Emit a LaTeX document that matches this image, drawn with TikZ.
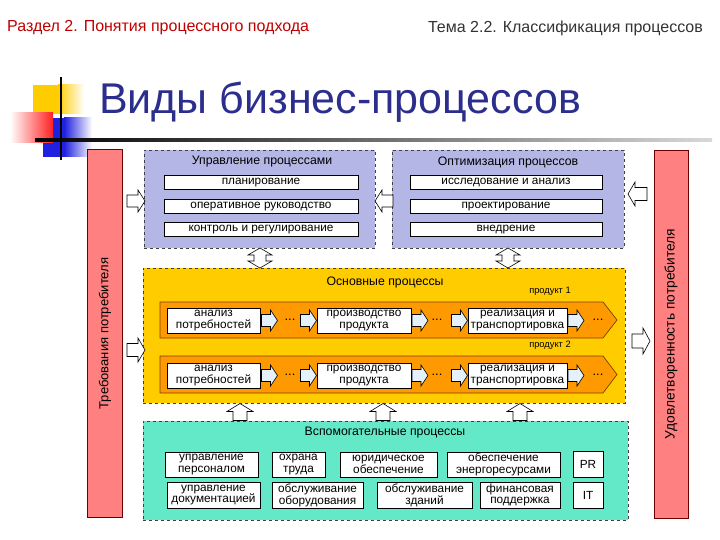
\documentclass[tikz,border=0pt]{standalone}
\usepackage{fontspec}
\setmainfont{Liberation Sans}
\definecolor{hdred}{HTML}{C00000}
\definecolor{hdgray}{HTML}{333333}
\definecolor{navy}{HTML}{2B2E8C}
\definecolor{lav}{HTML}{B4B6E6}
\definecolor{gold}{HTML}{FFCC00}
\definecolor{orng}{HTML}{FF9900}
\definecolor{orngd}{HTML}{7A3E00}
\definecolor{teal}{HTML}{63E8C8}
\definecolor{barred}{HTML}{FF8080}
\definecolor{bard}{HTML}{6B0000}
\definecolor{ltblue}{HTML}{E4F1FB}
\definecolor{dyel}{HTML}{FFCC00}
\definecolor{dred}{HTML}{FF2020}
\definecolor{dblue}{HTML}{2020E0}
\newcommand\fH{\fontsize{16}{16}\selectfont}
\newcommand\fB{\fontsize{11.8}{11.8}\selectfont}
\newcommand\fC{\fontsize{12.3}{12.3}\selectfont}
\newcommand\fS{\fontsize{9.3}{9.3}\selectfont}
\newcommand\fT{\fontsize{43}{43}\selectfont}
% block arrow: x, y, angle, length, total width, shaft width, head length, fill
\newcommand\blockarr[8]{%
  \begin{scope}[shift={(#1,#2)},rotate=#3]
  \draw[line width=0.6pt,fill=#8] ({-#4/2},{-#6/2}) -- ({#4/2-#7},{-#6/2}) -- ({#4/2-#7},{-#5/2}) -- ({#4/2},0)
    -- ({#4/2-#7},{#5/2}) -- ({#4/2-#7},{#6/2}) -- ({-#4/2},{#6/2}) -- cycle;
  \end{scope}}
% double block arrow: x, y, angle, length, total width, shaft width, head length
\newcommand\dblarr[7]{%
  \begin{scope}[shift={(#1,#2)},rotate=#3]
  \draw[line width=0.6pt,fill=white] ({-#4/2},0) -- ({-#4/2+#7},{-#5/2}) -- ({-#4/2+#7},{-#6/2}) -- ({#4/2-#7},{-#6/2}) -- ({#4/2-#7},{-#5/2}) -- ({#4/2},0)
    -- ({#4/2-#7},{#5/2}) -- ({#4/2-#7},{#6/2}) -- ({-#4/2+#7},{#6/2}) -- ({-#4/2+#7},{#5/2}) -- cycle;
  \end{scope}}
\tikzset{
  wbox/.style={draw=black, fill=white, line width=0.6pt, inner sep=0pt, align=center, font=\fB},
  cont/.style={draw=black!75, dashed, line width=0.6pt, inner sep=0pt},
  bar/.style={draw=bard, fill=barred, line width=0.8pt, inner sep=0pt, rotate=90},
  lbl/.style={inner sep=0pt, font=\fC},
  dots/.style={inner sep=0pt, font=\fontsize{13}{13}\selectfont},
}
\begin{document}
\begin{tikzpicture}[x=1pt,y=-1pt]
\useasboundingbox (0,0) rectangle (720,540);
\fill[white] (0,0) rectangle (720,540);

% header
\node[anchor=west, text=hdred, font=\fH, inner sep=0pt] (h1) at (7,28) {Раздел 2. Понятия процессного подхода};
\node[anchor=east, text=hdgray, font=\fH, inner sep=0pt] (h2) at (703,28) {Тема 2.2. Классификация процессов};

% title decoration
\fill[dyel] (33,85) rectangle (58,114);
\shade[left color=dyel, right color=white] (58,85) rectangle (84,114);
\fill[dblue] (43,118) rectangle (64,157);
\shade[left color=dblue, right color=white] (64,118) rectangle (92,157);
\shade[left color=white, right color=dred] (10,113) rectangle (53,143);
\shade[left color=black, right color=black!15] (35,139) rectangle (712,141.5);
\draw[line width=1.6pt] (61,77) -- (61,160);
\node[anchor=base west, text=navy, font=\fT, inner sep=0pt] (title) at (99,114) {Виды бизнес-процессов};

% side bars
\node[bar, font=\fontsize{13}{13}\selectfont, minimum width=368, minimum height=35] (lbar) at (105,333.5) {Требования потребителя};
\node[bar, font=\fontsize{13.8}{13.8}\selectfont, minimum width=368, minimum height=34] (rbar) at (671,334) {Удовлетворенность потребителя};

% management box
\node[cont, fill=lav, minimum width=231, minimum height=98] (mgmt) at (259.5,199) {};
\node[lbl] (mgmtT) at (262,162) {Управление процессами};
\node[wbox, minimum width=194, minimum height=14] (m1) at (261,182.5) {планирование};
\node[wbox, minimum width=194, minimum height=14] (m2) at (261,206.5) {оперативное руководство};
\node[wbox, minimum width=194, minimum height=14] (m3) at (261,229.5) {контроль и регулирование};

% optimisation box
\node[cont, fill=lav, minimum width=232, minimum height=98] (opt) at (508,199) {};
\node[lbl] (optT) at (508,162) {Оптимизация процессов};
\node[wbox, minimum width=192, minimum height=14] (o1) at (506,182.5) {исследование и анализ};
\node[wbox, minimum width=192, minimum height=14] (o2) at (506,206.5) {проектирование};
\node[wbox, minimum width=192, minimum height=14] (o3) at (506,229.5) {внедрение};

% main processes box
\node[cont, fill=gold, minimum width=482, minimum height=135] (main) at (384,335.5) {};
\node[lbl] (mainT) at (385,282) {Основные процессы};
\node[inner sep=0pt, font=\fS] (p1) at (550,291) {продукт 1};
\node[inner sep=0pt, font=\fS] (p2) at (550,345) {продукт 2};

% bands
\draw[draw=orngd, fill=orng, line width=0.7pt] (160,302) -- (603,302) -- (617,320) -- (603,338) -- (160,338) -- cycle;
\draw[draw=orngd, fill=orng, line width=0.7pt] (160,356) -- (603,356) -- (617,374.5) -- (603,393) -- (160,393) -- cycle;

\foreach \yy/\sfx in {320.5/a, 375.5/b} {
  \node[wbox, minimum width=93, minimum height=25] (an\sfx) at (213.5,\yy) {анализ\\потребностей};
  \node[wbox, minimum width=94, minimum height=25] (pr\sfx) at (364,\yy) {производство\\продукта};
  \node[wbox, minimum width=99, minimum height=25] (re\sfx) at (517.5,\yy) {реализация и\\транспортировка};
  \node[dots] (d1\sfx) at (290,\yy-1) {...};
  \node[dots] (d2\sfx) at (437,\yy-1) {...};
  \node[dots] (d3\sfx) at (598,\yy-1) {...};
  \blockarr{269.5}{\yy}{0}{16}{21}{12}{7}{ltblue}
  \blockarr{308.5}{\yy}{0}{16}{21}{12}{7}{ltblue}
  \blockarr{420}{\yy}{0}{16}{21}{12}{7}{ltblue}
  \blockarr{459.5}{\yy}{0}{16}{21}{12}{7}{ltblue}
  \blockarr{576}{\yy}{0}{16}{21}{12}{7}{ltblue}
}

% support processes box
\node[cont, fill=teal, minimum width=485, minimum height=99] (sup) at (385.5,470.5) {};
\node[lbl] (supT) at (385,433) {Вспомогательные процессы};
\node[wbox, minimum width=93, minimum height=25] (s1) at (211.5,464.5) {управление\\персоналом};
\node[wbox, minimum width=53, minimum height=25] (s2) at (298.5,464.5) {охрана\\труда};
\node[wbox, minimum width=97, minimum height=25] (s3) at (388.5,464.5) {юридическое\\обеспечение};
\node[wbox, minimum width=113, minimum height=25] (s4) at (503.5,464.5) {обеспечение\\энергоресурсами};
\node[wbox, minimum width=30, minimum height=26] (s5) at (588,464) {PR};
\node[wbox, minimum width=93, minimum height=26] (s6) at (213.5,495) {управление\\документацией};
\node[wbox, minimum width=91, minimum height=26] (s7) at (317.5,495) {обслуживание\\оборудования};
\node[wbox, minimum width=95, minimum height=26] (s8) at (424.5,495) {обслуживание\\зданий};
\node[wbox, minimum width=80, minimum height=26] (s9) at (520,495) {финансовая\\поддержка};
\node[wbox, minimum width=30, minimum height=26] (s10) at (588,495) {IT};

% hollow arrows
\blockarr{136}{201}{0}{18}{22}{12}{7}{white}
\blockarr{384}{201}{180}{18}{22}{12}{7}{white}
\blockarr{637.5}{194}{180}{19}{24}{13}{7}{white}
\blockarr{136}{350}{0}{18}{24}{13}{7}{white}
\blockarr{641}{341}{0}{18}{26}{14}{7}{white}
\dblarr{260}{258}{90}{20}{24}{12}{7}
\dblarr{508}{258}{90}{20}{24}{12}{7}
\blockarr{240}{412}{90}{17}{26}{14}{8}{white}
\blockarr{383}{412}{90}{17}{26}{14}{8}{white}
\blockarr{520}{412}{90}{17}{26}{14}{8}{white}
\end{tikzpicture}
\end{document}
